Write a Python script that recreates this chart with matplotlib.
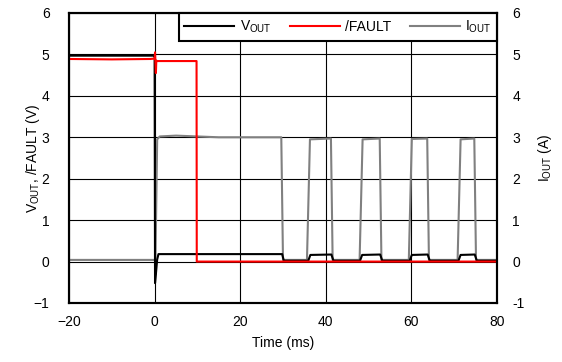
import matplotlib
matplotlib.use('Agg')
import matplotlib.pyplot as plt
from matplotlib.ticker import FuncFormatter

plt.rcParams['font.family'] = ['Liberation Sans', 'DejaVu Sans']
plt.rcParams['mathtext.fontset'] = 'custom'
plt.rcParams['mathtext.rm'] = 'Liberation Sans'

vout_t = [-20, -0.1, 0.0, 0.1, 0.3, 0.6, 0.9, 29.8, 30.2, 35.9, 36.4,
          41.3, 41.8, 48.0, 48.5, 52.7, 53.2, 59.6, 60.1, 63.8, 64.3,
          71.0, 71.5, 74.8, 75.3, 80]
vout_v = [4.97, 4.97, 4.95, -0.52, -0.3, 0.05, 0.18, 0.18, 0.02, 0.02, 0.16,
          0.17, 0.02, 0.02, 0.16, 0.17, 0.02, 0.02, 0.16, 0.17, 0.02,
          0.02, 0.16, 0.17, 0.02, 0.02]

fault_t = [-20, -10, -1, 0.0, 0.1, 0.3, 0.4, 0.6, 9.8, 9.85, 80]
fault_v = [4.89, 4.88, 4.89, 4.90, 5.05, 4.55, 4.85, 4.84, 4.84, 0.0, 0.0]

iout_t = [-20, 0.2, 0.6, 1.2, 5, 15, 29.6, 30.0, 35.6, 36.3, 41.2, 41.6,
          47.9, 48.6, 52.6, 53.0, 59.4, 60.1, 63.7, 64.1, 70.8, 71.5, 74.7, 75.1, 80]
iout_v = [0.04, 0.04, 2.95, 3.02, 3.04, 3.0, 3.0, 0.04, 0.04, 2.95, 2.97, 0.04,
          0.04, 2.95, 2.97, 0.04, 0.04, 2.96, 2.97, 0.04, 0.04, 2.95, 2.97, 0.04, 0.04]

x_ticks = [-20, 0, 20, 40, 60, 80]
y_ticks = [-1, 0, 1, 2, 3, 4, 5, 6]

fs = 10

# ---------------- figure ----------------
fig = plt.figure(figsize=(5.62, 3.62), dpi=100)
ax = fig.add_axes([0.1228, 0.163, 0.7615, 0.8011])
ax2 = ax.twinx()

ax.plot(vout_t, vout_v, color='black', lw=1.5, label=r'V$_{\mathregular{OUT}}$', zorder=3)
ax.plot(fault_t, fault_v, color='red', lw=1.5, label='/FAULT', zorder=4)
ax.plot(iout_t, iout_v, color='#808080', lw=1.5, label=r'I$_{\mathregular{OUT}}$', zorder=2)

ax.set_xlim(-20, 80)
ax.set_ylim(-1, 6)
ax2.set_ylim(-1, 6)
ax.set_xticks(x_ticks)
ax.set_yticks(y_ticks)
ax2.set_yticks(y_ticks)
minus = lambda v, p: ('\u2212%d' % -v) if v < 0 else '%d' % v
ax.xaxis.set_major_formatter(FuncFormatter(minus))
ax.yaxis.set_major_formatter(FuncFormatter(minus))
ax2.yaxis.set_major_formatter(FuncFormatter(lambda v, p: '%d' % v))

ax.grid(True, color='black', lw=0.8)
ax.set_axisbelow(True)
ax.tick_params(axis='x', length=0, labelsize=fs, pad=9)
ax.tick_params(axis='y', length=0, labelsize=fs, pad=14)
ax2.tick_params(axis='y', length=0, labelsize=fs, pad=11)
for a in (ax, ax2):
    for s in a.spines.values():
        s.set_linewidth(1.5)
        s.set_color('black')

ax.set_xlabel('Time (ms)', fontsize=fs, labelpad=5)
ax.set_ylabel(r'V$_{\mathregular{OUT}}$, /FAULT (V)', fontsize=fs, labelpad=-6)
ax2.set_ylabel(r'I$_{\mathregular{OUT}}$ (A)', fontsize=fs, labelpad=8.5)

leg = ax.legend(loc='upper right', bbox_to_anchor=(1, 1), ncol=3, fontsize=fs,
                frameon=True, fancybox=False, edgecolor='black', framealpha=1,
                borderaxespad=0, handlelength=3.6, handletextpad=0.4,
                columnspacing=1.3, borderpad=0.4)
leg.get_frame().set_linewidth(1.5)
leg.set_zorder(10)

fig.savefig('out.png', dpi=100)
